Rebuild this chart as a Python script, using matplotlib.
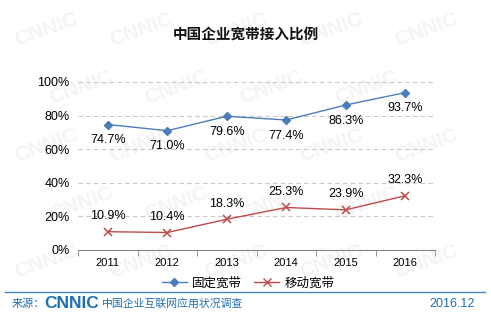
import matplotlib
matplotlib.use('Agg')
import matplotlib.pyplot as plt
from matplotlib.lines import Line2D

plt.rcParams['font.family'] = ['Liberation Sans', 'Noto Sans CJK SC', 'DejaVu Sans']

years = ['2011', '2012', '2013', '2014', '2015', '2016']
fixed = [74.7, 71.0, 79.6, 77.4, 86.3, 93.7]
mobile = [10.9, 10.4, 18.3, 25.3, 23.9, 32.3]
title = '中国企业宽带接入比例'
series_names = ['固定宽带', '移动宽带']

W, H = 491, 322
fig = plt.figure(figsize=(W / 100, H / 100), dpi=100)

# faint watermark, kept inside the picture
for row in range(5):
    for col in range(5):
        x = (12 + col * 95 + (row % 2) * 35) / W
        y = 1 - (30 + row * 58) / H
        if x * W > 400:
            continue
        fig.text(x, y, 'CNNIC', fontsize=15, fontweight='bold', color='#f4f4f4',
                 rotation=20, ha='left', va='center', zorder=-10)

ax = fig.add_axes([78 / W, 1 - 250 / H, (435 - 78) / W, (250 - 82) / H])
ax.patch.set_alpha(0)
xs = list(range(len(years)))
ax.plot(xs, fixed, color='#4a7ebb', lw=1, marker='D', ms=4.5, mfc='#4a7ebb', mec='#4a7ebb')
ax.plot(xs, mobile, color='#be4b48', lw=1, marker='x', ms=5.5, mew=1.1)

for x, v in zip(xs, fixed):
    ax.annotate(f'{v:.1f}%', (x, v), xytext=(0, -7), textcoords='offset points',
                ha='center', va='top', fontsize=9)
for x, v in zip(xs, mobile):
    ax.annotate(f'{v:.1f}%', (x, v), xytext=(0, 7), textcoords='offset points',
                ha='center', va='bottom', fontsize=9)

ax.set_xlim(-0.5, len(years) - 0.5)
ax.set_ylim(0, 100)
ax.set_yticks(range(0, 101, 20))
ax.set_yticklabels([f'{v}%' for v in range(0, 101, 20)], fontsize=9)
ax.set_xticks(xs)
ax.set_xticklabels(years, fontsize=8)
ax.set_xticks([i - 0.5 for i in range(len(years) + 1)], minor=True)
ax.tick_params(axis='x', which='major', length=0, pad=6)
ax.tick_params(axis='x', which='minor', length=4, color='#868686')
ax.tick_params(axis='y', length=0, pad=6)
ax.grid(axis='y', color='#c8c8c8', ls=(0, (4, 3)), lw=0.8)
for s in ['top', 'right', 'left']:
    ax.spines[s].set_visible(False)
ax.spines['bottom'].set_color('#868686')

handles = [Line2D([], [], color='#4a7ebb', marker='D', ms=4, lw=1),
           Line2D([], [], color='#be4b48', marker='x', ms=5.5, lw=1)]
fig.legend(handles, series_names, loc='center', bbox_to_anchor=(248 / W, 1 - 283 / H),
           ncol=2, frameon=False, fontsize=9, handlelength=2.0, columnspacing=1.0,
           handletextpad=0.4)

fig.text(246 / W, 1 - 35 / H, title, ha='center', va='center', fontsize=10.5,
         fontweight='bold', color='#111111')

fig.add_artist(Line2D([5 / W, 485 / W], [1 - 292 / H, 1 - 292 / H], color='#4a86c8', lw=1))
fig.text(12 / W, 1 - 304 / H, '来源：', ha='left', va='center', fontsize=8, color='#1f6fb5')
fig.text(44 / W, 1 - 303 / H, 'CNNIC', ha='left', va='center', fontsize=12.5,
         fontweight='bold', color='#1f6fb5')
fig.text(102 / W, 1 - 304 / H, '中国企业互联网应用状况调查', ha='left', va='center',
         fontsize=7.8, color='#1f6fb5')
fig.text(475 / W, 1 - 304 / H, '2016.12', ha='right', va='center', fontsize=9, color='#1f6fb5')

fig.savefig('out.png', dpi=100)
